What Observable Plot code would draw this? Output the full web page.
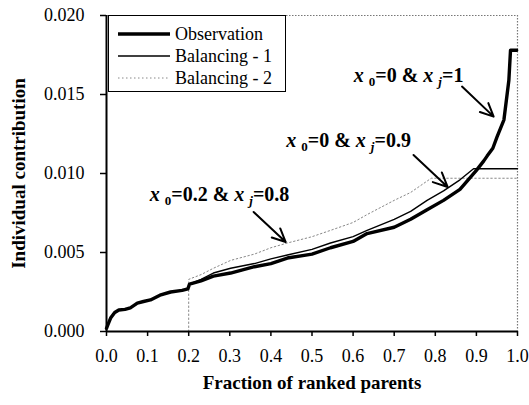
<!DOCTYPE html>
<html>
<head>
<meta charset="utf-8">
<script src="https://cdn.jsdelivr.net/npm/d3@7"></script>
<script src="https://cdn.jsdelivr.net/npm/@observablehq/plot@0.6"></script>
<style>
  body { margin: 0; background: white; }
  #wrap { position: relative; width: 529px; height: 405px; font-family: "Liberation Serif", "Times New Roman", serif; }
  #legend { position: absolute; left: 108px; top: 15px; width: 176px; height: 75px; border: 1.5px solid black; background: white; }
  .row { position: absolute; left: 0; height: 20px; display: flex; align-items: center; font-size: 18px; }
  .row svg { margin-left: 9px; margin-right: 5px; }
</style>
</head>
<body>
<div id="wrap"></div>
<script>
// ---- data ----
const obsX = [0, 0.003, 0.01, 0.02, 0.03, 0.045, 0.058, 0.075, 0.09, 0.107, 0.13, 0.156, 0.184, 0.198, 0.202, 0.23, 0.26, 0.302, 0.36, 0.40, 0.44, 0.50, 0.545, 0.60, 0.634, 0.70, 0.74, 0.78, 0.82, 0.86, 0.88, 0.90, 0.918, 0.926, 0.94, 0.95, 0.967, 0.979, 0.983, 0.998];
const obsY = [0.0002, 0.0004, 0.00085, 0.0012, 0.00136, 0.0014, 0.0015, 0.0018, 0.0019, 0.0020, 0.0023, 0.0025, 0.0026, 0.0027, 0.0030, 0.0032, 0.0035, 0.0037, 0.0041, 0.0043, 0.00465, 0.0049, 0.0053, 0.0057, 0.0062, 0.0066, 0.0071, 0.0077, 0.0083, 0.0090, 0.0096, 0.0102, 0.0108, 0.0111, 0.0116, 0.0123, 0.0134, 0.0159, 0.0178, 0.0178];

const bal1X = [0, 0.003, 0.01, 0.02, 0.03, 0.045, 0.058, 0.075, 0.09, 0.107, 0.13, 0.156, 0.184, 0.198, 0.202, 0.23, 0.26, 0.302, 0.36, 0.40, 0.44, 0.50, 0.545, 0.60, 0.634, 0.70, 0.74, 0.78, 0.82, 0.86, 0.893, 1.0];
const bal1Y = [0.0002, 0.0004, 0.00085, 0.0012, 0.00136, 0.0014, 0.0015, 0.0018, 0.0019, 0.0020, 0.0023, 0.0025, 0.0026, 0.0027, 0.0030, 0.0033, 0.0037, 0.0040, 0.0043, 0.0046, 0.00484, 0.0052, 0.0056, 0.0060, 0.0064, 0.0071, 0.0076, 0.0083, 0.0089, 0.0096, 0.0103, 0.0103];

const bal2X = [0.2, 0.2, 0.23, 0.26, 0.302, 0.36, 0.40, 0.44, 0.50, 0.545, 0.60, 0.634, 0.70, 0.74, 0.79, 1.0];
const bal2Y = [0, 0.0033, 0.0036, 0.0040, 0.0045, 0.0049, 0.0053, 0.0056, 0.0060, 0.0064, 0.0069, 0.0074, 0.0083, 0.0088, 0.0097, 0.0097];

const xTicks = [0, 0.1, 0.2, 0.3, 0.4, 0.5, 0.6, 0.7, 0.8, 0.9, 1.0];
const yTicks = [0, 0.005, 0.010, 0.015, 0.020];

const seriesNames = ["Observation", "Balancing - 1", "Balancing - 2"];

const annotLabels = ["x₀=0 & xⱼ=1", "x₀=0 & xⱼ=0.9", "x₀=0.2 & xⱼ=0.8"];
const annotX = [0.735, 0.589, 0.275];
const annotY = [0.0162, 0.0121, 0.00864];

const arrowX1 = [0.865, 0.747, 0.358];
const arrowY1 = [0.0155, 0.01117, 0.00756];
const arrowX2 = [0.942, 0.830, 0.436];
const arrowY2 = [0.0136, 0.00915, 0.00566];

// ---- build tables ----
const obs = obsX.map((x, i) => ({x, y: obsY[i]}));
const bal1 = bal1X.map((x, i) => ({x, y: bal1Y[i]}));
const bal2 = bal2X.map((x, i) => ({x, y: bal2Y[i]}));
const annots = annotLabels.map((t, i) => ({text: t, x: annotX[i], y: annotY[i]}));
const arrows = arrowX1.map((x1, i) => ({x1, y1: arrowY1[i], x2: arrowX2[i], y2: arrowY2[i]}));

const styles = [
  {stroke: "black", strokeWidth: 3.4, dash: null},
  {stroke: "black", strokeWidth: 1.4, dash: null},
  {stroke: "#888", strokeWidth: 1, dash: "1.5,2.5"}
];

const chart = Plot.plot({
  width: 529,
  height: 405,
  marginLeft: 106,
  marginRight: 12,
  marginTop: 15,
  marginBottom: 74,
  style: {fontFamily: "Liberation Serif, Times New Roman, serif", fontSize: "18px", color: "black", background: "white", overflow: "visible"},
  x: {domain: [0, 1]},
  y: {domain: [0, 0.02]},
  marks: [
    Plot.ruleX([1], {stroke: "#777", strokeWidth: 1.2, strokeDasharray: "1.5,1.5"}),
    Plot.ruleY([0.02], {stroke: "#777", strokeWidth: 1.2, strokeDasharray: "1.5,1.5"}),
    Plot.line(bal2, {x: "x", y: "y", stroke: styles[2].stroke, strokeWidth: styles[2].strokeWidth, strokeDasharray: styles[2].dash}),
    Plot.line(bal1, {x: "x", y: "y", stroke: styles[1].stroke, strokeWidth: styles[1].strokeWidth}),
    Plot.line(obs, {x: "x", y: "y", stroke: styles[0].stroke, strokeWidth: styles[0].strokeWidth, strokeLinejoin: "round"}),
    Plot.ruleX([0], {stroke: "black", strokeWidth: 2}),
    Plot.ruleY([0], {stroke: "black", strokeWidth: 2}),
    Plot.axisX({ticks: xTicks, tickFormat: d3.format(".1f"), tickSize: 5, tickPadding: 13, label: null, strokeWidth: 1.5, fontSize: 18}),
    Plot.axisY({ticks: yTicks, tickFormat: d3.format(".3f"), tickSize: 6, tickPadding: 16, label: null, strokeWidth: 1.5, fontSize: 18}),
    Plot.text(["Fraction of ranked parents"], {frameAnchor: "bottom", dy: 57, fontWeight: "bold", fontSize: 19}),
    Plot.text(["Individual contribution"], {frameAnchor: "left", textAnchor: "middle", rotate: -90, dx: -88, fontWeight: "bold", fontSize: 19}),
    Plot.text(annots, {x: "x", y: "y", text: "text", fontWeight: "bold", fontSize: 20}),
    Plot.arrow(arrows, {x1: "x1", y1: "y1", x2: "x2", y2: "y2", stroke: "black", strokeWidth: 2, headLength: 12, headAngle: 50})
  ]
});

// subscripts and italic variable names as real text in tspans
chart.querySelectorAll("text").forEach(t => {
  const s = t.textContent;
  if (!/[₀ⱼ]/.test(s)) return;
  t.textContent = "";
  const ns = "http://www.w3.org/2000/svg";
  let shifted = false;
  for (const ch of s) {
    const sp = document.createElementNS(ns, "tspan");
    if (ch === "₀" || ch === "ⱼ") {
      sp.textContent = ch === "₀" ? "0" : "j";
      sp.setAttribute("font-size", "13");
      sp.setAttribute("dy", "4");
      sp.setAttribute("dx", "5");
      if (ch === "ⱼ") sp.setAttribute("font-style", "italic");
      shifted = true;
    } else {
      sp.textContent = ch;
      if (ch === "x") sp.setAttribute("font-style", "italic");
      if (shifted) { sp.setAttribute("dy", "-4"); shifted = false; }
    }
    t.appendChild(sp);
  }
});

const wrap = document.getElementById("wrap");
wrap.appendChild(chart);

// legend
const legend = document.createElement("div");
legend.id = "legend";
seriesNames.forEach((name, i) => {
  const row = document.createElement("div");
  row.className = "row";
  row.style.top = (8 + i * 22) + "px";
  const st = styles[i];
  row.innerHTML = `<svg width="52" height="8"><line x1="0" x2="52" y1="4" y2="4" stroke="${st.stroke}" stroke-width="${st.strokeWidth}" ${st.dash ? `stroke-dasharray="${st.dash}"` : ""}/></svg><span>${name}</span>`;
  legend.appendChild(row);
});
wrap.appendChild(legend);
</script>
</body>
</html>
